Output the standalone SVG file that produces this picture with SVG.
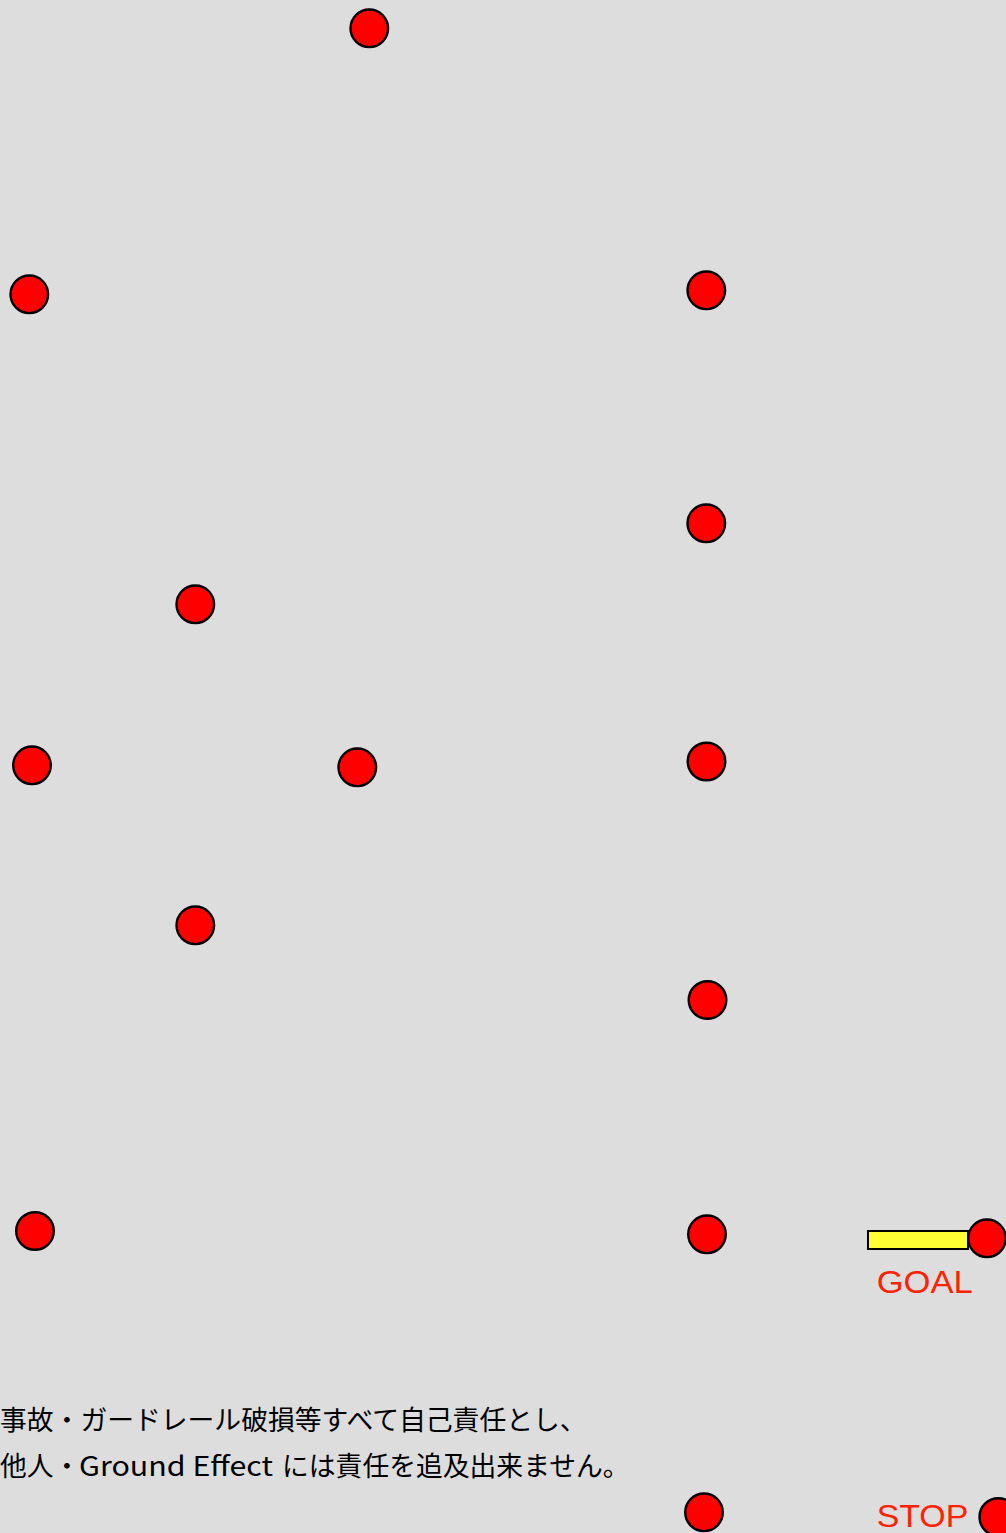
<svg xmlns="http://www.w3.org/2000/svg" width="1006" height="1533" viewBox="0 0 1006 1533">
<style>
.pt{fill:#ff0000;stroke:#000;stroke-width:2.4}
.lbl{fill:#ff2200;font-family:"Liberation Sans",Arial,sans-serif;font-size:32px}
.note{fill:#000;font-family:"Noto Sans CJK JP",sans-serif;font-size:26.8px}
</style>
<rect x="0" y="0" width="1006" height="1533" fill="#dddddd"/>
<g id="connectors"></g>
<g id="p1"><circle class="pt" cx="369.3" cy="28.3" r="18.8"/></g>
<g id="p2"><circle class="pt" cx="29.3" cy="294.3" r="18.8"/></g>
<g id="p3"><circle class="pt" cx="706.3" cy="290.3" r="18.8"/></g>
<g id="p4"><circle class="pt" cx="706.3" cy="523.3" r="18.8"/></g>
<g id="p5"><circle class="pt" cx="195.3" cy="604.3" r="18.8"/></g>
<g id="p6"><circle class="pt" cx="32" cy="765.3" r="18.8"/></g>
<g id="p7"><circle class="pt" cx="357.3" cy="767.3" r="18.8"/></g>
<g id="p8"><circle class="pt" cx="706.5" cy="761.5" r="18.8"/></g>
<g id="p9"><circle class="pt" cx="195.3" cy="925.3" r="18.8"/></g>
<g id="p10"><circle class="pt" cx="707.5" cy="1000" r="18.8"/></g>
<g id="p11"><circle class="pt" cx="35" cy="1231" r="18.8"/></g>
<g id="p12"><circle class="pt" cx="707" cy="1234.3" r="18.8"/></g>
<g id="goal">
<rect x="868" y="1231" width="100" height="18" fill="#ffff33" stroke="#000" stroke-width="2"/>
<circle class="pt" cx="987" cy="1238.3" r="18.8"/>
<text class="lbl" x="876.7" y="1292.7" textLength="96" lengthAdjust="spacingAndGlyphs">GOAL</text>
</g>
<g id="p13"><circle class="pt" cx="704" cy="1512.3" r="18.8"/></g>
<g id="stop">
<text class="lbl" x="876.7" y="1526.7" textLength="91.6" lengthAdjust="spacingAndGlyphs">STOP</text>
<circle class="pt" cx="998.3" cy="1517" r="18.8"/>
</g>
<g id="notice">
<text class="note" x="0" y="1430">事故・ガードレール破損等すべて自己責任とし、</text>
<text class="note" y="1476"><tspan x="0">他人・</tspan><tspan x="79" textLength="194" lengthAdjust="spacingAndGlyphs">Ground Effect</tspan><tspan x="282">には責任を追及出来ません。</tspan></text>
</g>
</svg>
